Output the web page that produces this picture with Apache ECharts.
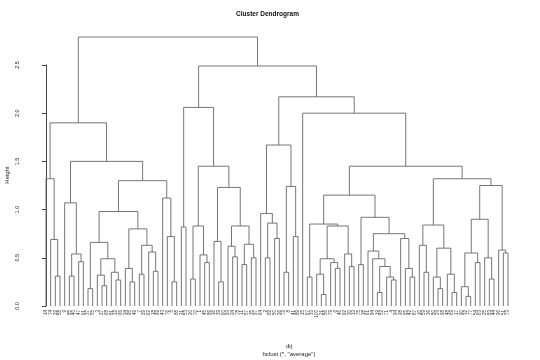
<!DOCTYPE html>
<html><head><meta charset="utf-8">
<script src="https://cdn.jsdelivr.net/npm/echarts@6/dist/echarts.min.js"></script>
<style>html,body{margin:0;padding:0;background:#fff}#c{width:540px;height:360px}</style>
</head><body><div id="c"></div>
<script>
const titleText = 'Cluster Dendrogram';
const yName = 'Height';
const xName = 'dij';
const subName = 'hclust (*, "average")';
const yTicks = [0, 0.5, 1, 1.5, 2, 2.5];
const leafLabels = [
 '14','74','22','58','9','85','40','47','91','37',
 '55','3','27','68','81','12','66','34','95','49',
 '7','29','62','18','99','43','76','5','88','31',
 '53','20','70','1','45','86','16','39','60','93',
 '24','78','11','57','35','97','64','2','82','50',
 '26','72','8','41','89','15','67','33','100','21',
 '56','79','6','46','92','30','13','75','38','61',
 '84','19','52','71','4','94','28','65','42','87',
 '10','59','36','80','23','98','48','69','17','90',
 '32','77','54','63','25','83','44','96','51','73'];

// subtrees: [left, right, height]; a number is a leaf position
const clusterA1 = [0, [1, [2, 3, 0.31], 0.69], 1.32];
const clusterA2a = [4, [[5, 6, 0.31], [7, 8, 0.46], 0.54], 1.07];
const clusterA2b1 = [[[9, 10, 0.18], [[11, [12, 13, 0.21], 0.32], [14, [15, 16, 0.27], 0.35], 0.49], 0.66],
                     [[17, [18, 19, 0.25], 0.39], [[20, 21, 0.33], [22, [23, 24, 0.36], 0.56], 0.63], 0.80], 0.98];
const clusterA2b2 = [25, [26, [27, 28, 0.25], 0.72], 1.12];
const clusterB = [[29, 30, 0.82],
  [[[31, 32, 0.28], [33, [34, 35, 0.45], 0.53], 0.83],
   [[36, [37, 38, 0.25], 0.67], [[39, [40, 41, 0.51], 0.62], [[42, 43, 0.43], [44, 45, 0.50], 0.64], 0.83], 1.23], 1.45], 2.06];
const clusterC = [[46, [[47, 48, 0.50], [49, 50, 0.70], 0.86], 0.96], [[51, 52, 0.35], [53, 54, 0.72], 1.24], 1.67];
const clusterF1 = [[56, 57, 0.30],
  [[[58, [59, 60, 0.12], 0.33], [61, [62, 63, 0.39], 0.45], 0.49], [64, [65, 66, 0.41], 0.54], 0.83], 0.85];
const clusterF2 = [[67, 68, 0.43],
  [[69, [70, [[71, 72, 0.14], [73, [74, 75, 0.27], 0.30], 0.41], 0.49], 0.57], [76, [77, [78, 79, 0.30], 0.39], 0.70], 0.75], 0.92];
const clusterG1 = [[80, [81, 82, 0.35], 0.63], [[83, [84, 85, 0.18], 0.30], [86, [87, 88, 0.14], 0.33], 0.60], 0.84];
const clusterG2 = [[[[89, [90, 91, 0.10], 0.20], [92, 93, 0.45], 0.55], [94, [95, 96, 0.28], 0.50], 0.90], [97, [98, 99, 0.55], 0.58], 1.25];
const heights = {A2b: 1.30, A2: 1.50, A: 1.90, F: 1.15, G: 1.32, E: 1.45, D: 2.00, CD: 2.17, BCD: 2.49, root: 2.79};

const tree = [
  [clusterA1, [clusterA2a, [clusterA2b1, clusterA2b2, heights.A2b], heights.A2], heights.A],
  [clusterB, [clusterC, [55, [[clusterF1, clusterF2, heights.F], [clusterG1, clusterG2, heights.G], heights.E], heights.D], heights.CD], heights.BCD],
  heights.root];

const segs = [];
function build(node) {
  if (typeof node === 'number') return {x: node, h: 0};
  const L = build(node[0]), R = build(node[1]);
  segs.push([L.x, L.h, R.x, R.h, node[2]]);
  return {x: (L.x + R.x) / 2, h: node[2]};
}
build(tree);
const leafData = leafLabels.map((l, i) => [i, 0, l]);

const chart = echarts.init(document.getElementById('c'), null, {renderer: 'canvas'});
const font = 'Liberation Sans, Arial, Helvetica, sans-serif';
chart.setOption({
  animation: false,
  backgroundColor: '#fff',
  grid: {left: 46, right: 32, top: 65, bottom: 54},
  xAxis: {type: 'value', min: 0, max: leafLabels.length - 1, show: false},
  yAxis: {type: 'value', min: yTicks[0], max: yTicks[yTicks.length - 1], interval: 0.5, offset: 21,
    axisLine: {show: true, lineStyle: {color: '#444', width: 1}},
    axisTick: {show: true, length: 4, lineStyle: {color: '#444'}},
    splitLine: {show: false},
    axisLabel: {rotate: 90, fontSize: 5.5, color: '#222', margin: 5, fontFamily: font,
      formatter: v => v.toFixed(1)}},
  graphic: [
    {type: 'text', x: 267.5, y: 14, style: {text: titleText, font: 'bold 6.5px ' + font, fill: '#111', align: 'center', verticalAlign: 'middle'}},
    {type: 'text', x: 7, y: 175, rotation: Math.PI / 2, style: {text: yName, font: '6px ' + font, fill: '#222', align: 'center', verticalAlign: 'middle'}},
    {type: 'text', x: 289, y: 346, style: {text: xName, font: '6px ' + font, fill: '#222', align: 'center', verticalAlign: 'middle'}},
    {type: 'text', x: 289, y: 354, style: {text: subName, font: '6px ' + font, fill: '#222', align: 'center', verticalAlign: 'middle'}}
  ],
  series: [
    {type: 'custom', clip: false, data: segs, encode: {x: [0, 2], y: [1, 3, 4]},
      renderItem: (params, api) => {
        const p1 = api.coord([api.value(0), api.value(1)]);
        const p2 = api.coord([api.value(0), api.value(4)]);
        const p3 = api.coord([api.value(2), api.value(4)]);
        const p4 = api.coord([api.value(2), api.value(3)]);
        return {type: 'polyline', shape: {points: [p1, p2, p3, p4]},
          style: {stroke: '#666', lineWidth: 0.9, fill: null}};
      }},
    {type: 'custom', clip: false, data: leafData, encode: {x: 0, y: 1},
      renderItem: (params, api) => {
        const p = api.coord([api.value(0), 0]);
        return {type: 'text', x: p[0], y: p[1] + 4, rotation: Math.PI / 2,
          style: {text: leafLabels[params.dataIndex], font: '4.5px ' + font, fill: '#333', align: 'right', verticalAlign: 'middle'}};
      }}
  ]
});
</script></body></html>
